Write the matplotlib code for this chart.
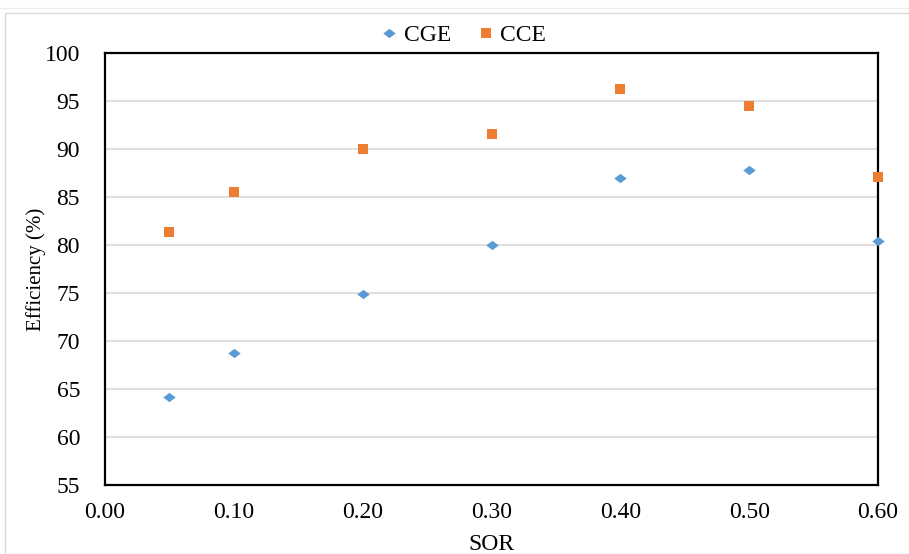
import matplotlib
matplotlib.use("Agg")
import matplotlib.pyplot as plt
from matplotlib.patches import Rectangle
from matplotlib.path import Path

# SOR values and efficiencies
sor = [0.05, 0.10, 0.20, 0.30, 0.40, 0.50, 0.60]
cge = [64.2, 68.7, 74.9, 80.0, 87.0, 87.8, 80.4]
cce = [81.4, 85.5, 90.0, 91.6, 96.3, 94.5, 87.1]

x_ticks = [0.0, 0.1, 0.2, 0.3, 0.4, 0.5, 0.6]
y_ticks = [55, 60, 65, 70, 75, 80, 85, 90, 95, 100]

plt.rcParams["font.family"] = ["Liberation Serif", "DejaVu Serif"]
FS = 17

W, H = 909, 554
fig = plt.figure(figsize=(W / 100, H / 100), dpi=100)

# light outer chart frame
fig.patches.append(Rectangle((5 / W, 0), 1.0, 1 - 13 / H, transform=fig.transFigure,
                             fill=False, edgecolor="#D9D9D9", linewidth=1.0))
fig.lines.append(plt.Line2D([0, 1], [1 - 8 / H, 1 - 8 / H], transform=fig.transFigure,
                            color="#EEEEEE", linewidth=1.0))

left, right, top, bottom = 105, 878, 53, 485
ax = fig.add_axes([left / W, 1 - bottom / H, (right - left) / W, (bottom - top) / H])

diamond = Path([(-1, 0), (0, 0.75), (1, 0), (0, -0.75), (-1, 0)],
               [Path.MOVETO, Path.LINETO, Path.LINETO, Path.LINETO, Path.CLOSEPOLY])

blue = "#5B9BD5"
orange = "#ED7D31"

ax.plot(sor, cge, linestyle="none", marker=diamond, markersize=9,
        color=blue, markeredgewidth=0, label="CGE", clip_on=False, zorder=3)
ax.plot(sor, cce, linestyle="none", marker="s", markersize=7,
        color=orange, markeredgewidth=0, label="CCE", clip_on=False, zorder=3)

ax.set_xlim(0, 0.6)
ax.set_ylim(55, 100)
ax.set_xticks(x_ticks)
ax.set_xticklabels([f"{v:.2f}" for v in x_ticks])
ax.set_yticks(y_ticks)
ax.set_yticklabels([str(v) for v in y_ticks])
ax.tick_params(axis="both", length=0, labelsize=FS, colors="black")
ax.tick_params(axis="x", pad=12)
ax.tick_params(axis="y", pad=18)

ax.yaxis.grid(True, color="#D9D9D9", linewidth=1.2)
ax.set_axisbelow(True)
for sp in ax.spines.values():
    sp.set_color("black")
    sp.set_linewidth(1.6)

ax.set_xlabel("SOR", fontsize=FS, labelpad=8)
ax.set_ylabel("Efficiency (%)", fontsize=15)
ax.yaxis.set_label_coords((46 - left) / (right - left), 0.5)

fig.legend(loc="center", bbox_to_anchor=(462 / W, 1 - 35 / H), ncol=2, frameon=False,
           fontsize=FS, handletextpad=0.1, columnspacing=1.0, handlelength=1.0,
           borderaxespad=0)

fig.savefig("out.png", dpi=100)
